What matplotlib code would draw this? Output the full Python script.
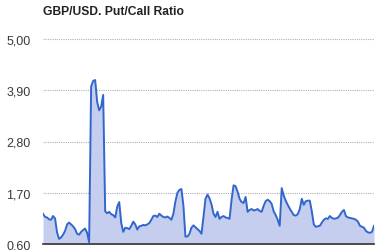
import matplotlib
matplotlib.use("Agg")
import matplotlib.pyplot as plt
import numpy as np

title = "GBP/USD. Put/Call Ratio"
y_ticks = [0.60, 1.70, 2.80, 3.90, 5.00]
y_labels = ["0,60", "1,70", "2,80", "3,90", "5,00"]

# put/call ratio, evenly spaced observations
ratio = [
    1.25, 1.18, 1.17, 1.13, 1.12, 1.20, 1.15, 0.85, 0.71, 0.74,
    0.80, 0.88, 1.02, 1.06, 1.02, 0.98, 0.92, 0.82, 0.80, 0.86,
    0.90, 0.93, 0.84, 0.64, 3.98, 4.10, 4.12, 3.65, 3.47, 3.55,
    3.80, 1.30, 1.26, 1.29, 1.24, 1.22, 1.17, 1.40, 1.50, 1.05,
    0.86, 0.95, 0.94, 0.92, 0.99, 1.08, 1.02, 0.91, 0.98, 0.99,
    1.01, 1.00, 1.02, 1.05, 1.12, 1.20, 1.21, 1.18, 1.25, 1.21,
    1.18, 1.17, 1.19, 1.16, 1.12, 1.25, 1.51, 1.70, 1.76, 1.78,
    1.42, 0.76, 0.76, 0.82, 0.95, 1.00, 0.96, 0.92, 0.88, 0.82,
    1.18, 1.57, 1.66, 1.58, 1.45, 1.25, 1.18, 1.29, 1.14, 1.18,
    1.20, 1.17, 1.16, 1.14, 1.55, 1.86, 1.84, 1.72, 1.57, 1.50,
    1.48, 1.61, 1.29, 1.33, 1.35, 1.32, 1.33, 1.35, 1.31, 1.29,
    1.42, 1.52, 1.55, 1.52, 1.46, 1.30, 1.22, 1.12, 0.99, 1.80,
    1.64, 1.53, 1.44, 1.36, 1.29, 1.22, 1.21, 1.24, 1.35, 1.57,
    1.44, 1.52, 1.53, 1.53, 1.30, 1.02, 0.97, 0.98, 0.99, 1.06,
    1.12, 1.15, 1.14, 1.20, 1.16, 1.14, 1.15, 1.16, 1.22, 1.29,
    1.33, 1.20, 1.17, 1.16, 1.15, 1.14, 1.12, 1.08, 0.99, 0.97,
    0.95, 0.88, 0.85, 0.84, 0.86, 0.99,
]


def main():
    plt.rcParams['font.family'] = ['Liberation Sans', 'DejaVu Sans']
    x = np.arange(len(ratio))

    fig = plt.figure(figsize=(3.86, 2.51), dpi=100)
    ax = fig.add_axes([43 / 386, 1 - 245 / 251, 331 / 386, 205 / 251])

    ax.fill_between(x, 0.60, ratio, color='#c6cef0', lw=0)
    ax.plot(x, ratio, color='#3366cc', lw=1.4, solid_joinstyle='round')

    ax.set_xlim(0, len(ratio) - 1)
    ax.set_ylim(0.60, 5.00)
    ax.set_yticks(y_ticks)
    ax.set_yticklabels(y_labels)
    ax.set_xticks([])
    ax.tick_params(axis='y', length=0, pad=9, labelsize=9, labelcolor='#3a3a3a')

    for v in y_ticks[1:]:
        ax.axhline(v, color='#b4acbc', lw=0.8, ls=(0, (1, 1)), zorder=0)

    for side in ['top', 'right', 'left']:
        ax.spines[side].set_visible(False)
    ax.spines['bottom'].set_color('#333333')
    ax.spines['bottom'].set_linewidth(1.2)

    fig.text(43 / 386, 1 - 12 / 251, title, fontsize=8.7, fontweight='bold',
             color='#222222', va='center', ha='left')

    fig.savefig('out.png', dpi=100)


if __name__ == "__main__":
    main()
